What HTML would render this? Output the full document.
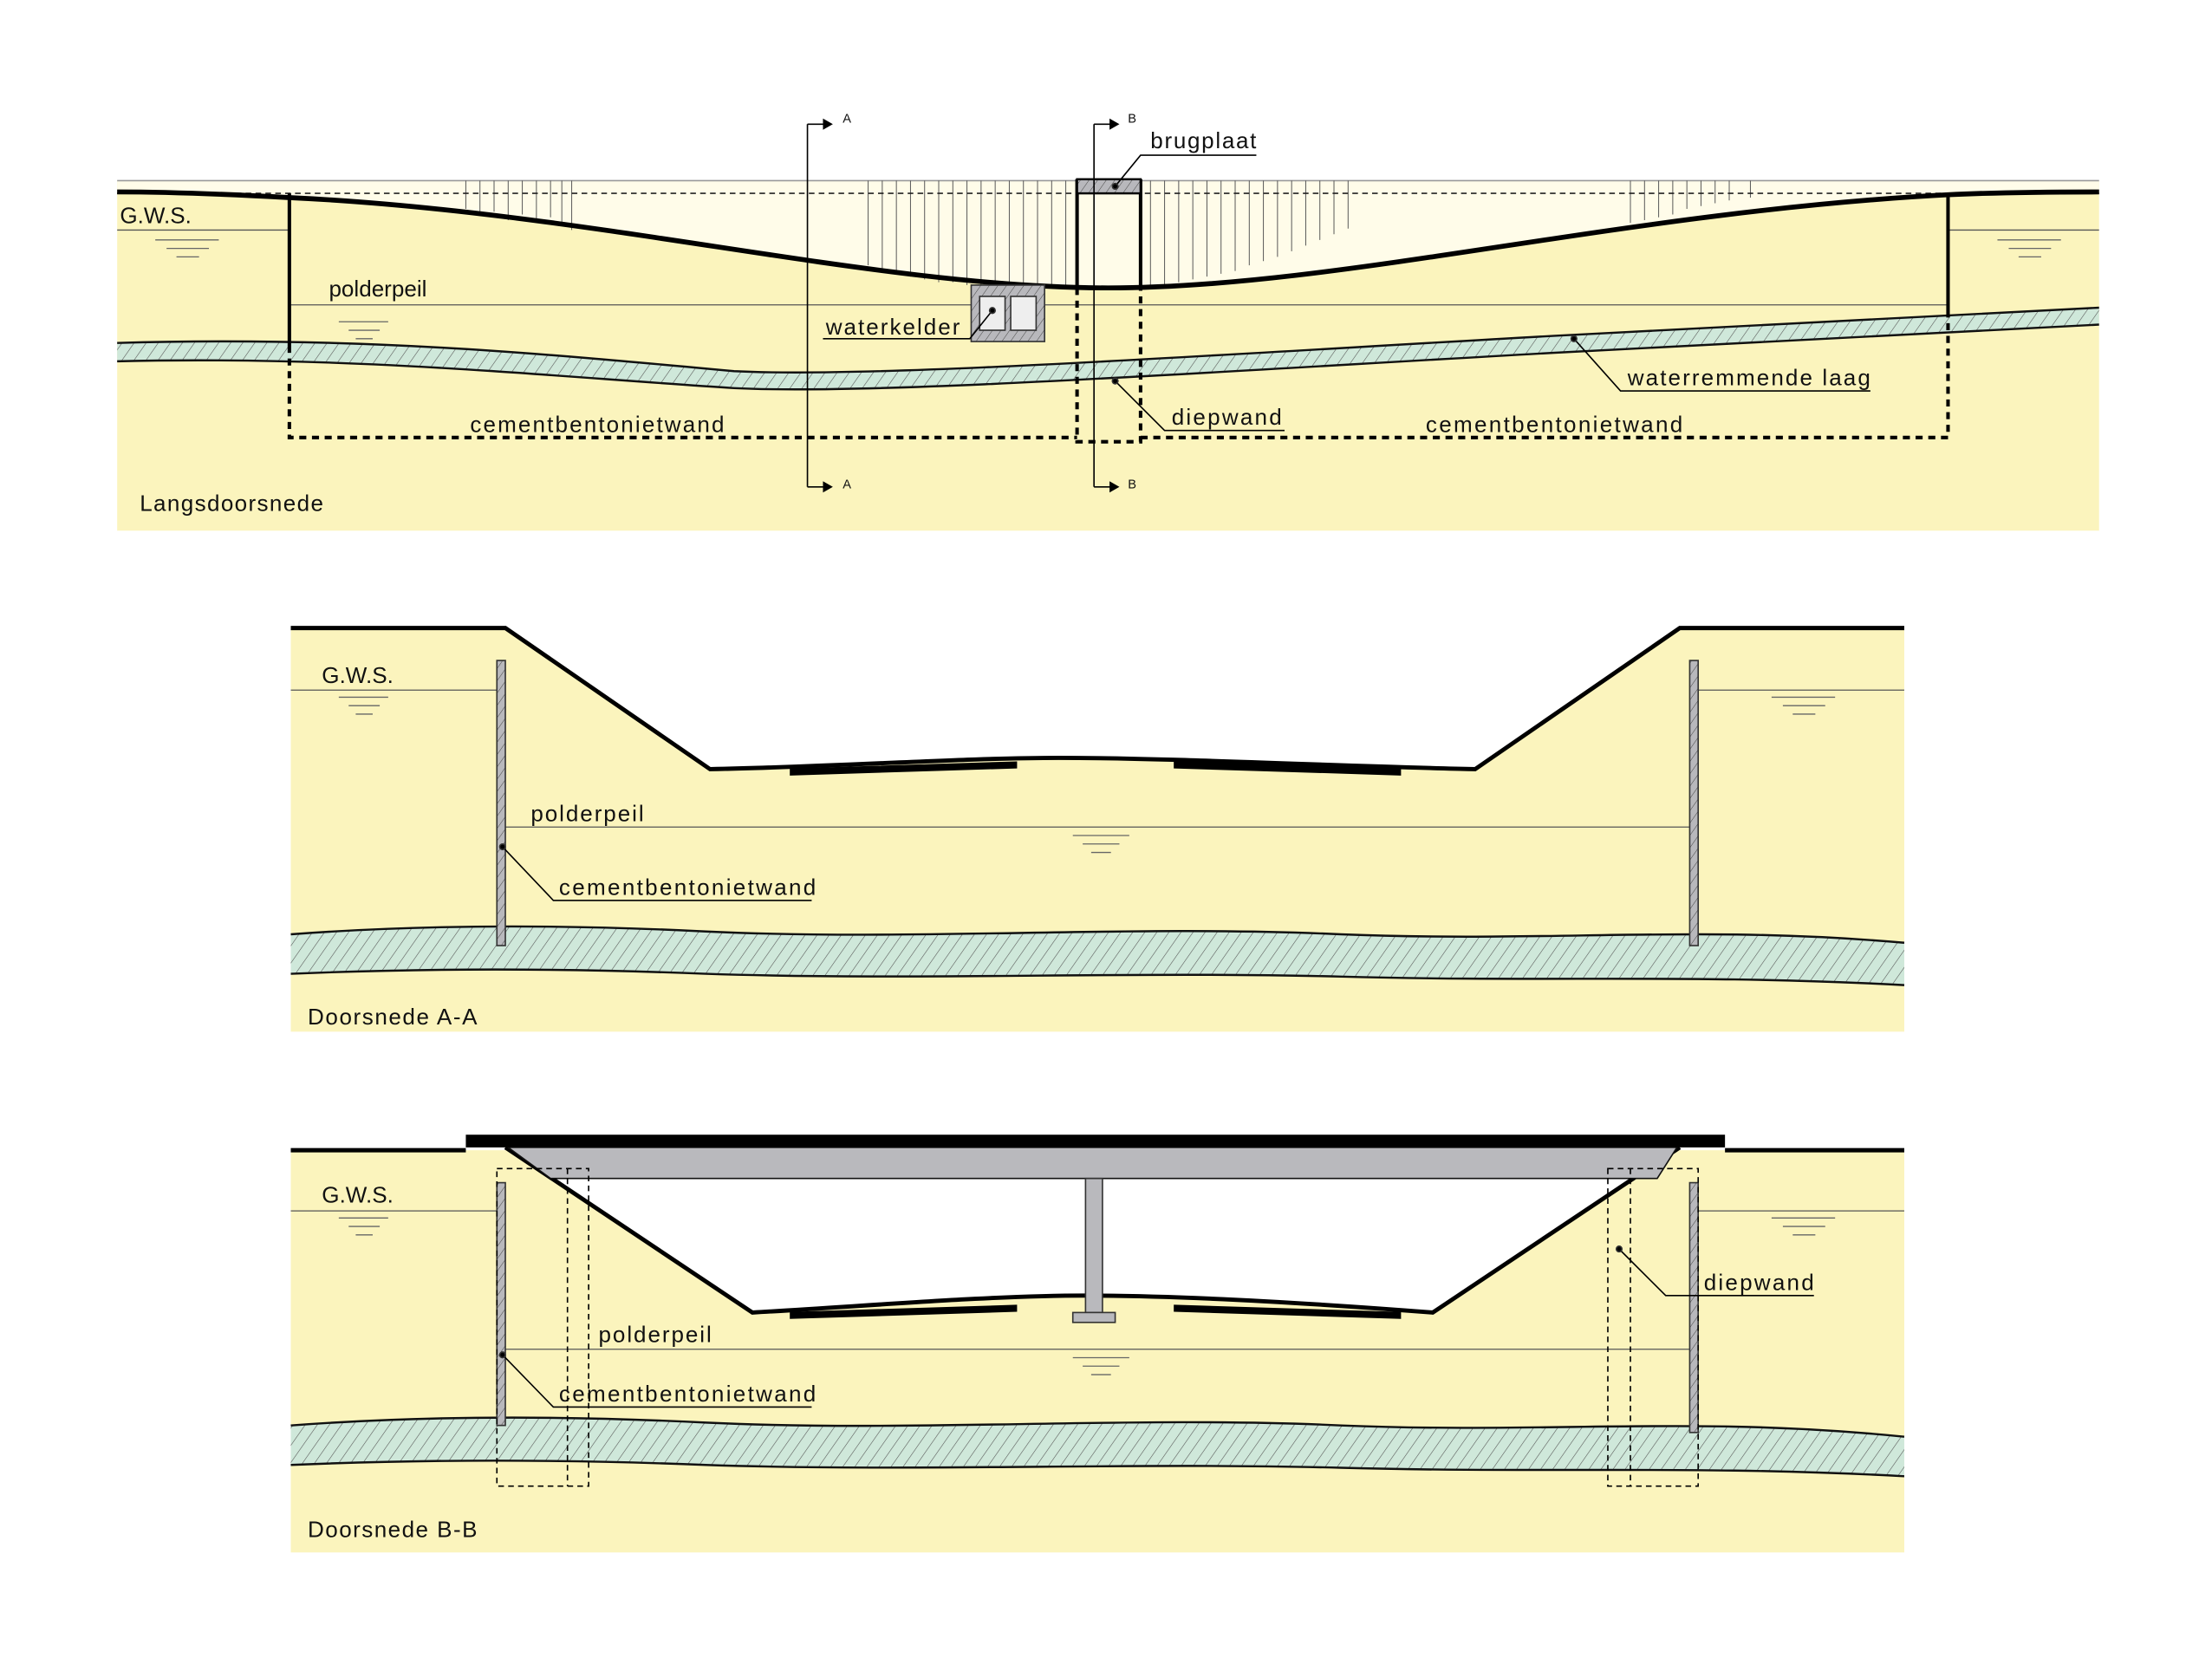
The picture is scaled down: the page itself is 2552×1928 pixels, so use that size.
<!DOCTYPE html>
<html><head><meta charset="utf-8"><style>html,body{margin:0;padding:0;background:#fff}svg{display:block}text{font-family:"Liberation Sans",sans-serif;font-size:16px;fill:#111}</style></head>
<body>
<svg width="2552" height="1928" viewBox="0 0 1567 1184" preserveAspectRatio="none" xmlns="http://www.w3.org/2000/svg">
<defs>
<pattern id="h" width="7" height="7" patternUnits="userSpaceOnUse" patternTransform="rotate(35)"><rect width="7" height="7" fill="#cfe8da"/><line x1="0" y1="0" x2="0" y2="7" stroke="#555" stroke-width="0.7"/></pattern>
<pattern id="g" width="5" height="5" patternUnits="userSpaceOnUse" patternTransform="rotate(35)"><rect width="5" height="5" fill="#b8b8bc"/><line x1="0" y1="0" x2="0" y2="5" stroke="#444" stroke-width="0.6"/></pattern>
</defs>
<g fill="none" stroke="#333">
<!-- PANEL 1 -->
<rect x="83" y="128" width="1404" height="248" fill="#fbf4bd" stroke="none"/>
<path d="M83,128 H1487 V136 C1430,136 1400,137 1380,138 C1150,150 950,204 785,204 C620,204 420,150 205,140 C150,137 110,136 83,136 Z" fill="#fffce9" stroke="none"/>
<line x1="83" y1="128" x2="1487" y2="128" stroke="#999" stroke-width="1"/>
<g stroke="#555" stroke-width="0.6">
<path d="M330,128v20M340,128v25M350,128v22M360,128v28M370,128v24M380,128v30M390,128v26M398,128v32M405,128v35"/>
<path d="M615,128v60M625,128v64M635,128v66M645,128v68M655,128v70M665,128v72M675,128v72M685,128v74M695,128v76M705,128v76M715,128v77M725,128v77M735,128v77M745,128v76M755,128v75"/>
<path d="M815,128v75M825,128v74M835,128v72M845,128v70M855,128v68M865,128v66M875,128v64M885,128v60M895,128v57M905,128v54M915,128v50M925,128v46M935,128v42M945,128v38M955,128v34"/>
<path d="M1155,128v30M1165,128v28M1175,128v26M1185,128v24M1195,128v20M1205,128v18M1215,128v16M1225,128v14M1240,128v12"/>
</g>
<line x1="83" y1="137" x2="1487" y2="137" stroke="#222" stroke-width="1" stroke-dasharray="4,3"/>
<path d="M83,163H205M1380,163H1487M205,216H1380" stroke="#555" stroke-width="0.8"/>
<path d="M110,170h45M118,176h30M125,182h16M240,228h35M247,234h22M252,240h12M1415,170h45M1423,176h30M1430,182h16" stroke="#666" stroke-width="0.8"/>
<path d="M83,243 C250,238 380,250 520,263 C620,268 850,252 1100,238 C1300,228 1400,222 1487,218 V230 C1400,234 1300,240 1100,250 C850,264 620,280 520,275 C380,266 250,252 83,256 Z" fill="url(#h)" stroke="none"/>
<path d="M83,243 C250,238 380,250 520,263 C620,268 850,252 1100,238 C1300,228 1400,222 1487,218 M1487,230 C1400,234 1300,240 1100,250 C850,264 620,280 520,275 C380,266 250,252 83,256" stroke="#111" stroke-width="1.5"/>
<path d="M83,136 C110,136 150,137 205,140 C420,150 620,204 785,204 C950,204 1150,150 1380,138 C1400,137 1430,136 1487,136" stroke="#000" stroke-width="3.5"/>
<path d="M205,137V245M1380,137V224" stroke="#000" stroke-width="2.5"/>
<path d="M763,127V204M808,127V204" stroke="#000" stroke-width="2.5"/>
<path d="M205,245V310H763M808,310H1380V224M763,204V313H808V204" stroke="#000" stroke-width="2.5" stroke-dasharray="5,4"/>
<rect x="763" y="127" width="45" height="10" fill="url(#g)" stroke="#000" stroke-width="1.5"/>
<rect x="688" y="202" width="52" height="40" fill="url(#g)" stroke="#333" stroke-width="1"/>
<rect x="694" y="210" width="18" height="24" fill="#eee" stroke="#333"/><rect x="716" y="210" width="18" height="24" fill="#eee" stroke="#333"/>
<path d="M572,88V345M775,88V345M572,88h12M572,345h12M775,88h12M775,345h12" stroke="#000" stroke-width="1"/>
<path d="M583,84l7,4l-7,4zM583,341l7,4l-7,4zM786,84l7,4l-7,4zM786,341l7,4l-7,4z" fill="#000" stroke="none"/>
<path d="M790,132L808,110H890M703,220L687,240H583M1115,240L1148,277H1325M790,270L825,305H910" stroke="#000" stroke-width="1"/>
<circle cx="790" cy="132" r="2" fill="#000"/><circle cx="703" cy="220" r="2" fill="#000"/><circle cx="1115" cy="240" r="2" fill="#000"/><circle cx="790" cy="270" r="2" fill="#000"/>
<!-- PANEL 2 -->
<rect x="206" y="445" width="1143" height="286" fill="#fbf4bd" stroke="none"/>
<path d="M358,445L503,545 C600,543 680,537 750,537 C830,537 950,543 1045,545 L1190,445 V440 H358 Z" fill="#fff" stroke="none"/>
<path d="M206,445H358L503,545C600,543 680,537 750,537C830,537 950,543 1045,545L1190,445H1349" stroke="#000" stroke-width="3"/>
<path d="M560,545L720,540V544L560,549ZM832,540L992,545V549L832,544Z" fill="#000" stroke="#000"/>
<path d="M206,489H352M1203,489H1349M358,586H1197" stroke="#555" stroke-width="0.8"/>
<path d="M240,494h35M247,500h22M252,506h12M1255,494h45M1263,500h30M1270,506h16M760,592h40M767,598h26M773,604h14" stroke="#666" stroke-width="0.8"/>
<path d="M206,662 C300,655 400,655 500,660 C650,667 800,655 950,662 C1100,668 1200,655 1349,668 V698 C1200,690 1100,696 950,692 C800,688 650,695 500,690 C400,686 300,686 206,690 Z" fill="url(#h)" stroke="none"/>
<path d="M206,662 C300,655 400,655 500,660 C650,667 800,655 950,662 C1100,668 1200,655 1349,668 M1349,698 C1200,690 1100,696 950,692 C800,688 650,695 500,690 C400,686 300,686 206,690" stroke="#111" stroke-width="1.5"/>
<rect x="352" y="468" width="6" height="202" fill="url(#g)" stroke="#333" stroke-width="1"/>
<rect x="1197" y="468" width="6" height="202" fill="url(#g)" stroke="#333" stroke-width="1"/>
<path d="M356,600L392,638H575" stroke="#000" stroke-width="1"/><circle cx="356" cy="600" r="2" fill="#000"/>
<!-- PANEL 3 -->
<rect x="206" y="815" width="1143" height="285" fill="#fbf4bd" stroke="none"/>
<path d="M358,813L533,930C620,925 700,918 770,918C850,918 950,925 1015,930L1190,813Z" fill="#fff" stroke="none"/>
<path d="M206,815H330M1222,815H1349M358,813L533,930C620,925 700,918 770,918C850,918 950,925 1015,930L1190,813" stroke="#000" stroke-width="3"/>
<path d="M360,813H1188L1174,835H390Z" fill="#b9b9bd" stroke="#111" stroke-width="1"/>
<rect x="330" y="804" width="892" height="9" fill="#000" stroke="none"/>
<rect x="769" y="835" width="12" height="95" fill="#b9b9bd" stroke="#333" stroke-width="1"/>
<rect x="760" y="930" width="30" height="7" fill="#b9b9bd" stroke="#333" stroke-width="1"/>
<path d="M560,930L720,925V929L560,934ZM832,925L992,930V934L832,929Z" fill="#000" stroke="#000"/>
<path d="M206,858H352M1203,858H1349M358,956H1197" stroke="#555" stroke-width="0.8"/>
<path d="M240,863h35M247,869h22M252,875h12M1255,863h45M1263,869h30M1270,875h16M760,962h40M767,968h26M773,974h14" stroke="#666" stroke-width="0.8"/>
<path d="M206,1010 C300,1003 400,1003 500,1008 C650,1015 800,1003 950,1010 C1100,1016 1200,1003 1349,1018 V1046 C1200,1038 1100,1044 950,1040 C800,1036 650,1043 500,1038 C400,1034 300,1034 206,1038 Z" fill="url(#h)" stroke="none"/>
<path d="M206,1010 C300,1003 400,1003 500,1008 C650,1015 800,1003 950,1010 C1100,1016 1200,1003 1349,1018 M1349,1046 C1200,1038 1100,1044 950,1040 C800,1036 650,1043 500,1038 C400,1034 300,1034 206,1038" stroke="#111" stroke-width="1.5"/>
<rect x="352" y="838" width="6" height="172" fill="url(#g)" stroke="#333" stroke-width="1"/>
<rect x="1197" y="838" width="6" height="177" fill="url(#g)" stroke="#333" stroke-width="1"/>
<path d="M352,828H417V1053H352ZM402,828V1053M1139,828H1203V1053H1139ZM1155,828V1053" stroke="#000" stroke-width="1" stroke-dasharray="4,3"/>
<path d="M356,960L392,997H575M1147,885L1180,918H1285" stroke="#000" stroke-width="1"/><circle cx="356" cy="960" r="2" fill="#000"/><circle cx="1147" cy="885" r="2" fill="#000"/>
</g>
<text x="85" y="158">G.W.S.</text>
<text x="233" y="210">polderpeil</text>
<text x="815" y="105" textLength="75">brugplaat</text>
<text x="585" y="237" textLength="95">waterkelder</text>
<text x="1153" y="273" textLength="172">waterremmende laag</text>
<text x="830" y="301" textLength="78">diepwand</text>
<text x="333" y="306" textLength="180">cementbentonietwand</text>
<text x="1010" y="306" textLength="182">cementbentonietwand</text>
<text x="99" y="362" textLength="130">Langsdoorsnede</text>
<text x="597" y="87" style="font-size:9px">A</text><text x="597" y="346" style="font-size:9px">A</text>
<text x="799" y="87" style="font-size:9px">B</text><text x="799" y="346" style="font-size:9px">B</text>
<text x="228" y="484">G.W.S.</text>
<text x="376" y="582" textLength="80">polderpeil</text>
<text x="396" y="634" textLength="182">cementbentonietwand</text>
<text x="218" y="726" textLength="120">Doorsnede A-A</text>
<text x="228" y="852">G.W.S.</text>
<text x="424" y="951" textLength="80">polderpeil</text>
<text x="396" y="993" textLength="182">cementbentonietwand</text>
<text x="1207" y="914" textLength="78">diepwand</text>
<text x="218" y="1089" textLength="120">Doorsnede B-B</text>
</svg>
</body></html>
